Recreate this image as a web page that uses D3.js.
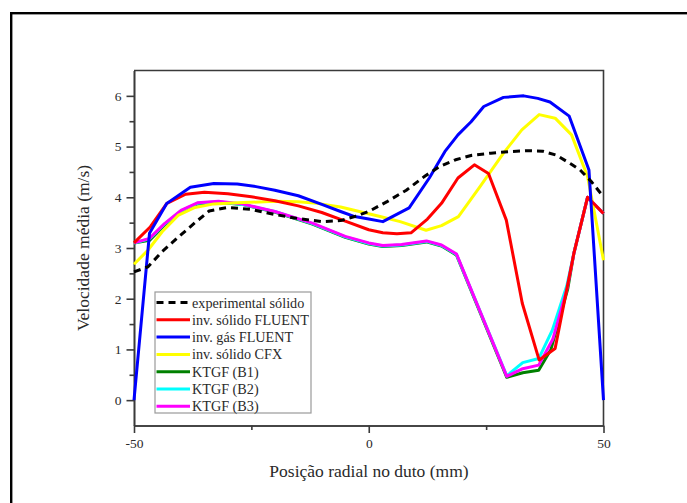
<!DOCTYPE html>
<html>
<head>
<meta charset="utf-8">
<script src="https://d3js.org/d3.v7.min.js"></script>
<style>
    body {
        margin: 0;
        background: #fff;
    }

    svg {
        display: block;
    }

    svg text {
        font-family: "Liberation Serif", "DejaVu Serif", serif !important;
    }
</style>
</head>
<body>
<script>
    // values: [posição radial (mm), velocidade (m/s)]
    const expSolido = [[-50, 2.53], [-47, 2.63], [-44, 2.93], [-40.5, 3.22], [-37, 3.50], [-34, 3.73], [-30, 3.80],
        [-25, 3.76], [-20, 3.66], [-15, 3.58], [-10, 3.52], [-6, 3.54], [-3, 3.62], [0, 3.72], [4, 3.92], [8, 4.14],
        [12, 4.42], [15, 4.60], [18.5, 4.74], [22, 4.83], [26, 4.87], [30, 4.90], [34, 4.92], [37, 4.91], [40, 4.83],
        [43, 4.66], [45, 4.54], [47.5, 4.30], [50, 4.01]];
    const solidoFluent = [[-50, 3.10], [-46.5, 3.42], [-43, 3.88], [-39, 4.06], [-35, 4.10], [-30, 4.07], [-25, 4.01],
        [-20, 3.93], [-15, 3.83], [-10, 3.70], [-5, 3.53], [0, 3.36], [3, 3.30], [6, 3.28], [9, 3.30], [12.5, 3.57],
        [15.5, 3.88], [19, 4.38], [22.5, 4.64], [25.5, 4.47], [29.3, 3.55], [32.7, 1.91], [36.3, 0.79], [39.7, 1.02],
        [43.7, 2.90], [46.6, 4.00], [50, 3.68]];
    const gasFluent = [[-50, 0], [-46.7, 3.29], [-43, 3.88], [-38, 4.20], [-33, 4.27], [-28, 4.26], [-24, 4.21],
        [-20, 4.14], [-15, 4.03], [-10, 3.86], [-6, 3.72], [-3, 3.62], [0, 3.57], [3, 3.52], [8.6, 3.79], [12.9, 4.38],
        [16.2, 4.90], [19, 5.23], [21.8, 5.49], [24.5, 5.79], [28.7, 5.97], [33, 6.00], [36, 5.95], [38.6, 5.88],
        [42.7, 5.60], [46.9, 4.54], [50, 0]];
    const solidoCfx = [[-50, 2.68], [-47, 2.96], [-44, 3.32], [-40.5, 3.65], [-37, 3.80], [-33, 3.87], [-28, 3.89],
        [-20, 3.92], [-15, 3.91], [-11, 3.88], [-6, 3.81], [-2, 3.72], [2.4, 3.62], [6.7, 3.52], [12.2, 3.35],
        [15.5, 3.44], [19.1, 3.62], [23.7, 4.21], [28.7, 4.87], [32.6, 5.33], [36.3, 5.63], [39.7, 5.56], [43.2, 5.23],
        [46.6, 4.41], [50, 2.76]];
    const ktgfB1 = [[-50, 3.10], [-46.7, 3.15], [-43.5, 3.45], [-40, 3.72], [-36.5, 3.87], [-32, 3.90], [-27, 3.86],
        [-20, 3.71], [-12, 3.47], [-5, 3.21], [0, 3.08], [3, 3.03], [7, 3.05], [12.3, 3.12], [15.5, 3.04], [18.7, 2.86],
        [29.4, 0.45], [32.8, 0.54], [36.2, 0.59], [38.8, 1.00], [42.4, 2.20], [43.7, 2.90], [46.6, 4.00], [50, 3.68]];
    const ktgfB2 = [[-50, 3.10], [-46.7, 3.18], [-43.5, 3.47], [-40, 3.73], [-36.5, 3.88], [-32, 3.91], [-27, 3.86],
        [-20, 3.72], [-12, 3.48], [-5, 3.22], [0, 3.09], [3, 3.04], [7, 3.06], [12.3, 3.13], [15.5, 3.05], [18.7, 2.87],
        [29.4, 0.48], [32.8, 0.74], [36.2, 0.82], [39.1, 1.38], [42.2, 2.26], [43.7, 2.90], [46.6, 4.00], [50, 3.68]];
    const ktgfB3 = [[-50, 3.10], [-46.7, 3.19], [-43.5, 3.48], [-40, 3.74], [-36.5, 3.89], [-32, 3.92], [-27, 3.87],
        [-20, 3.72], [-12, 3.49], [-5, 3.23], [0, 3.10], [3, 3.05], [7, 3.07], [12.3, 3.14], [15.5, 3.06], [18.7, 2.88],
        [29.4, 0.47], [32.8, 0.62], [36.2, 0.69], [39.2, 1.20], [42.3, 2.22], [43.7, 2.90], [46.6, 4.00], [50, 3.68]];

    const seriesNames = ["experimental sólido", "inv. sólido FLUENT", "inv. gás FLUENT", "inv. sólido CFX",
        "KTGF (B1)", "KTGF (B2)", "KTGF (B3)"];
    const seriesData = [expSolido, solidoFluent, gasFluent, solidoCfx, ktgfB1, ktgfB2, ktgfB3];
    const seriesColors = ["#000000", "#ff0000", "#0000ff", "#ffff00", "#008000", "#00ffff", "#ff00ff"];
    // drawing order, bottom to top
    const drawOrder = [4, 5, 6, 3, 1, 2, 0];

    const xMajor = [-50, 0, 50];
    const xMinor = [-25, 25];
    const yMajor = [0, 1, 2, 3, 4, 5, 6];
    const yMinor = [0.5, 1.5, 2.5, 3.5, 4.5, 5.5];

    const width = 687,
        height = 503;
    const serif = "Liberation Serif";
    const svg = d3.select("body").append("svg")
        .attr("width", width)
        .attr("height", height)
        .attr("font-family", serif);

    // outer frame (runs off the right and bottom of the picture)
    svg.append("rect")
        .attr("x", 11.2).attr("y", 13.2)
        .attr("width", 800).attr("height", 700)
        .attr("fill", "none")
        .attr("stroke", "black")
        .attr("stroke-width", 2.4);

    const x = d3.scaleLinear().domain([-50, 50]).range([134, 603.5]);
    const y = d3.scaleLinear().domain([-0.5, 6.5]).range([425.5, 70.5]);

    const axisColor = "#3a3a3a";
    const textColor = "#2a2a2a";

    function styleAxis(g) {
        g.attr("font-family", serif);
        g.select(".domain").attr("stroke", axisColor).attr("stroke-width", 1.6);
        g.selectAll(".tick line").attr("stroke", axisColor).attr("stroke-width", 1.6);
        g.selectAll(".tick text").attr("fill", textColor).attr("font-size", 13.5)
            .attr("font-family", serif);
    }

    // x axis
    svg.append("g")
        .attr("transform", "translate(0,425.5)")
        .call(d3.axisBottom(x).tickValues(xMinor).tickSize(4.5).tickSizeOuter(0).tickFormat(""))
        .call(styleAxis);
    svg.append("g")
        .attr("transform", "translate(0,425.5)")
        .call(d3.axisBottom(x).tickValues(xMajor).tickSize(7.5).tickSizeOuter(0).tickPadding(5)
            .tickFormat(d => String(d)))
        .call(styleAxis);

    // y axis
    svg.append("g")
        .attr("transform", "translate(134,0)")
        .call(d3.axisLeft(y).tickValues(yMinor).tickSize(4.5).tickSizeOuter(0).tickFormat(""))
        .call(styleAxis);
    svg.append("g")
        .attr("transform", "translate(134,0)")
        .call(d3.axisLeft(y).tickValues(yMajor).tickSize(7.5).tickSizeOuter(0).tickPadding(5)
            .tickFormat(d => String(d)))
        .call(styleAxis);

    // top and right edges of the plot box
    svg.append("path")
        .attr("d", `M${x(-50)},${y(6.5)}H${x(50)}V${y(-0.5)}`)
        .attr("fill", "none")
        .attr("stroke", axisColor)
        .attr("stroke-width", 1.6);

    // axis titles
    svg.append("text")
        .attr("transform", "translate(89,248) rotate(-90)")
        .attr("text-anchor", "middle")
        .attr("font-size", 17.5)
        .attr("fill", textColor)
        .text("Velocidade média (m/s)");
    svg.append("text")
        .attr("x", 369)
        .attr("y", 477)
        .attr("text-anchor", "middle")
        .attr("font-size", 17.5)
        .attr("fill", textColor)
        .text("Posição radial no duto (mm)");

    // curves
    const line = d3.line()
        .x(d => x(d[0]))
        .y(d => y(d[1]));

    drawOrder.forEach(i => {
        svg.append("path")
            .datum(seriesData[i])
            .attr("d", line)
            .attr("fill", "none")
            .attr("stroke", seriesColors[i])
            .attr("stroke-width", 3)
            .attr("stroke-linejoin", "round")
            .attr("stroke-dasharray", i == 0 ? "7,5" : null);
    });

    // legend
    const legend = svg.append("g").attr("transform", "translate(155,292)");
    legend.append("rect")
        .attr("width", 156)
        .attr("height", 121)
        .attr("fill", "white")
        .attr("stroke", "#9a9a9a")
        .attr("stroke-width", 1.2);
    seriesNames.forEach((name, i) => {
        const row = legend.append("g").attr("transform", `translate(0,${10.5 + i * 17.3})`);
        row.append("path")
            .attr("d", "M1.5,0H35")
            .attr("stroke", seriesColors[i])
            .attr("stroke-width", 3)
            .attr("stroke-dasharray", i == 0 ? "7,5" : null);
        row.append("text")
            .attr("x", 37)
            .attr("y", 5)
            .attr("font-size", 14.2)
            .attr("fill", textColor)
            .text(name);
    });
</script>
</body>
</html>
